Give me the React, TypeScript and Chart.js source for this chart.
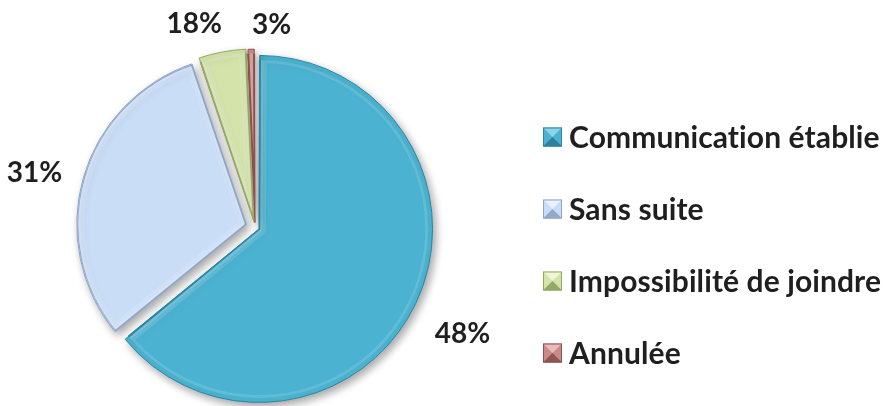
import React, { useEffect, useRef } from 'react';
import { Chart, registerables } from 'chart.js';

Chart.register(...registerables);

const categories = ['Communication établie', 'Sans suite', 'Impossibilité de joindre', 'Annulée'];
const sliceValues = [64.1, 30.7, 4.5, 0.7];
const labelTexts = ['48%', '31%', '18%', '3%'];
const sliceColors = ['#4BB3D1', '#C9DDF6', '#D3E3A9', '#C98A88'];
const rimColors = ['#2C86A2', '#8EA6C8', '#94AA62', '#8E504E'];
const topColors = ['#8FD3E6', '#E8F1FC', '#EEF5D9', '#E8BCBB'];
const bottomColors = ['#2E7F97', '#93A9C9', '#93A766', '#8E5553'];
const sliceOffsets = [18, 36, 21, 18];

const FONT = 'Lato, "Open Sans", sans-serif';

const shadowPlugin = {
  id: 'pieShadow',
  beforeDatasetsDraw(chart: any) {
    const c = chart.ctx;
    c.save();
    c.shadowColor = 'rgba(0,0,0,0.35)';
    c.shadowBlur = 9;
    c.shadowOffsetX = 3;
    c.shadowOffsetY = 4;
  },
  afterDatasetsDraw(chart: any) {
    chart.ctx.restore();
  },
};

const bevelPlugin = {
  id: 'pieBevel',
  afterDatasetsDraw(chart: any) {
    const c = chart.ctx;
    const meta = chart.getDatasetMeta(0);
    const passes = [
      { borderColor: 'rgba(255,255,255,0.13)', borderWidth: 7 },
      { borderColor: 'rgba(255,255,255,0.13)', borderWidth: 3.5 },
    ];
    meta.data.forEach((arc: any, i: number) => {
      const saved = arc.options;
      passes.forEach((p) => {
        arc.options = { ...saved, backgroundColor: 'rgba(0,0,0,0)', borderAlign: 'inner', ...p };
        arc.draw(c);
      });
      arc.options = { ...saved, backgroundColor: 'rgba(0,0,0,0)', borderAlign: 'inner', borderColor: rimColors[i], borderWidth: 1.2 };
      arc.draw(c);
      arc.options = saved;
    });
  },
};

const labelPlugin = {
  id: 'outsideLabels',
  afterDatasetsDraw(chart: any) {
    const c = chart.ctx;
    const meta = chart.getDatasetMeta(0);
    c.save();
    c.font = `700 28px ${FONT}`;
    c.fillStyle = '#1F1F1F';
    c.textAlign = 'center';
    c.textBaseline = 'middle';
    const boxes: any[] = [];
    meta.data.forEach((arc: any, i: number) => {
      const mid = (arc.startAngle + arc.endAngle) / 2;
      const dx = Math.cos(mid);
      const dy = Math.sin(mid);
      const w = c.measureText(labelTexts[i]).width;
      const h = 21;
      const dist = arc.outerRadius + 31;
      const ext = (w / 2) * Math.abs(dx) + (h / 2) * Math.abs(dy);
      boxes.push({ x: arc.x + dx * (dist + ext), y: arc.y + dy * (dist + ext) + 9, w, h, text: labelTexts[i] });
    });
    const margin = 30;
    for (let a = 0; a < boxes.length; a++) {
      for (let b = a + 1; b < boxes.length; b++) {
        const A = boxes[a];
        const B = boxes[b];
        if (Math.abs(A.y - B.y) > (A.h + B.h) / 2) continue;
        const need = (A.w + B.w) / 2 + margin;
        const d = Math.abs(A.x - B.x);
        if (d < need) {
          const push = (need - d) / 2;
          if (A.x <= B.x) { A.x -= push; B.x += push; } else { A.x += push; B.x -= push; }
        }
      }
    }
    boxes.forEach((bx) => c.fillText(bx.text, bx.x, bx.y));
    c.restore();
  },
};

const legendPlugin = {
  id: 'sideLegend',
  afterDraw(chart: any) {
    const c = chart.ctx;
    const x0 = 543;
    const y0 = 137;
    const step = 72;
    const s = 19;
    c.save();
    c.font = `700 30px ${FONT}`;
    try { (c as any).letterSpacing = '0.1px'; } catch (e) { /* ignore */ }
    c.textBaseline = 'middle';
    c.textAlign = 'left';
    categories.forEach((name, i) => {
      const yc = y0 + i * step;
      const bx = x0;
      const by = yc - s / 2;
      const cx = bx + s / 2;
      const cy = by + s / 2;
      const tri = (pts: number[][], col: string) => {
        c.beginPath();
        c.moveTo(pts[0][0], pts[0][1]);
        for (let k = 1; k < pts.length; k++) c.lineTo(pts[k][0], pts[k][1]);
        c.closePath();
        c.fillStyle = col;
        c.fill();
      };
      c.fillStyle = sliceColors[i];
      c.fillRect(bx, by, s, s);
      tri([[bx, by], [bx + s, by], [cx, cy]], topColors[i]);
      tri([[bx, by + s], [bx + s, by + s], [cx, cy]], bottomColors[i]);
      c.strokeStyle = rimColors[i];
      c.lineWidth = 1;
      c.strokeRect(bx + 0.5, by + 0.5, s - 1, s - 1);
      c.fillStyle = '#1F1F1F';
      c.fillText(name, bx + s + 7, yc + 1);
    });
    c.restore();
  },
};

export default function App() {
  const ref = useRef<HTMLCanvasElement | null>(null);
  useEffect(() => {
    document.body.style.margin = '0';
    if (!ref.current) return;
    const chart = new Chart(ref.current, {
      type: 'pie',
      data: {
        labels: categories,
        datasets: [
          {
            data: sliceValues,
            backgroundColor: sliceColors,
            borderColor: rimColors,
            borderWidth: 1,
            offset: sliceOffsets,
          },
        ],
      },
      options: {
        responsive: false,
        animation: false,
        radius: 169,
        layout: { padding: { left: 0, right: 376, top: 48, bottom: 0 } },
        plugins: {
          legend: { display: false },
          tooltip: { enabled: false },
        },
      },
      plugins: [shadowPlugin, bevelPlugin, labelPlugin, legendPlugin],
    });
    return () => chart.destroy();
  }, []);
  return <canvas ref={ref} width={886} height={406} style={{ display: 'block' }} />;
}
